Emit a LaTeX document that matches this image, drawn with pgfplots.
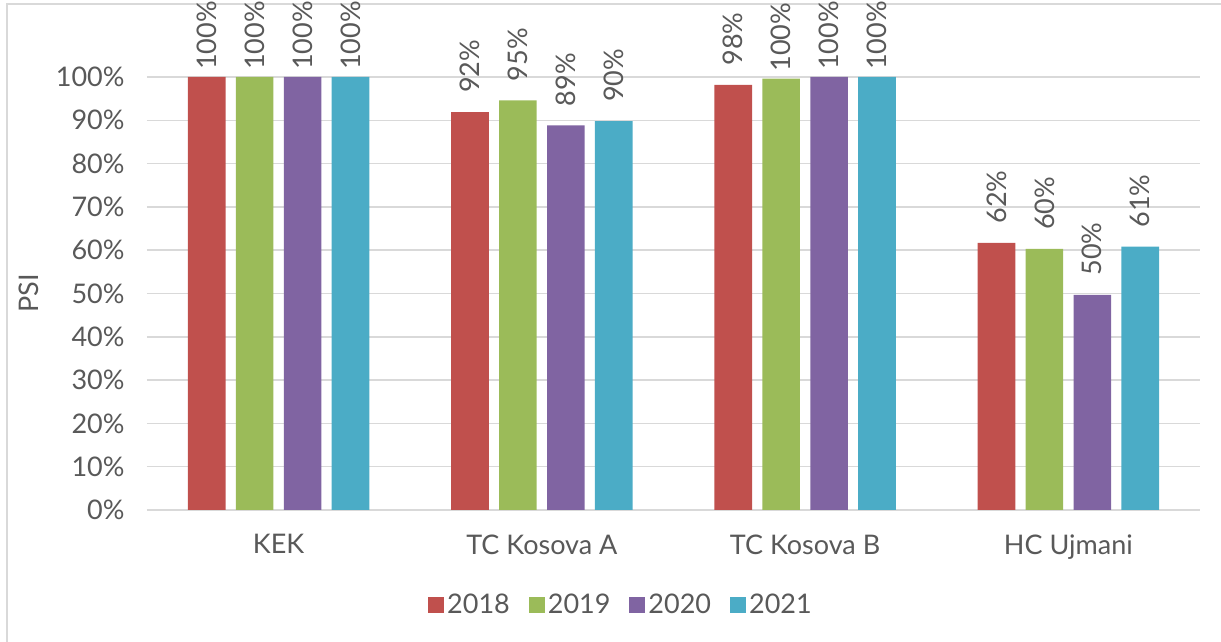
\documentclass[border=0pt]{standalone}
\usepackage{fontspec}
\setmainfont{Lato}
\usepackage{pgfplots}
\usepackage{pgfplotstable}
\pgfplotsset{compat=1.18}
\definecolor{c18}{HTML}{C0504D}
\definecolor{c19}{HTML}{9BBB59}
\definecolor{c20}{HTML}{8064A2}
\definecolor{c21}{HTML}{4BACC6}
\definecolor{txt}{HTML}{595959}
\definecolor{gridc}{HTML}{D9D9D9}
\pgfplotstableread{
x y18 y19 y20 y21
0 100 100 100 100
1 91.9 94.6 88.8 89.8
2 98.2 99.6 100 100
3 61.7 60.3 49.7 60.8
}\data
\newcommand{\cf}{\fontsize{27}{31}\selectfont}
\begin{document}
\begin{tikzpicture}[x=1pt,y=1pt]
\useasboundingbox (0,0) rectangle (1221,642);
\draw[gridc, line width=1.5pt] (7,-20) -- (7,638) -- (1250,638);
\begin{axis}[
  at={(147pt,132pt)}, anchor=south west,
  scale only axis, width=1053pt, height=433pt,
  xmin=-0.5, xmax=3.5, ymin=0, ymax=100,
  clip=false,
  xtick={0,1,2,3},
  xticklabels={KEK,TC Kosova A,TC Kosova B,HC Ujmani},
  ytick={0,10,...,100},
  yticklabel={\pgfmathprintnumber{\tick}\%},
  /pgf/number format/assume math mode=true,
  axis line style={draw=none},
  major tick length=0pt,
  ymajorgrids, grid style={gridc, line width=1.5pt},
  tick label style={font=\cf, text=txt},
  yticklabel style={xshift=-19pt},
  xticklabel style={yshift=-21pt},
  ylabel={PSI},
  ylabel style={at={(axis description cs:-0.112,0.5)}, anchor=center, font=\cf, text=txt},
  ybar=0pt,
  bar width=0.1426,
  point meta=y,
  visualization depends on={rawy \as \rawy},
  nodes near coords={\pgfmathprintnumber[fixed,precision=0]{\pgfplotspointmeta}\%},
  every node near coord/.append style={font=\cf, text=txt, rotate=90, anchor=west, inner sep=0pt,
     xshift={ifthenelse(\rawy>99.3,7,19)}},
  legend style={at={(axis description cs:0.4506,-0.219)}, anchor=center, draw=none, fill=none,
     font=\cf, text=txt, legend columns=-1,
     /tikz/every even column/.append style={column sep=16pt},
     nodes={inner xsep=3pt, inner ysep=0pt}},
  legend image code/.code={\fill (0pt,-8pt) rectangle (16pt,8pt);},
]
\addplot[fill=c18, draw=none, bar shift=-0.273] table[x=x,y=y18]{\data};
\addplot[fill=c19, draw=none, bar shift=-0.091] table[x=x,y=y19]{\data};
\addplot[fill=c20, draw=none, bar shift=0.091] table[x=x,y=y20]{\data};
\addplot[fill=c21, draw=none, bar shift=0.273] table[x=x,y=y21]{\data};
\legend{2018,2019,2020,2021}
\end{axis}
\end{tikzpicture}
\end{document}
